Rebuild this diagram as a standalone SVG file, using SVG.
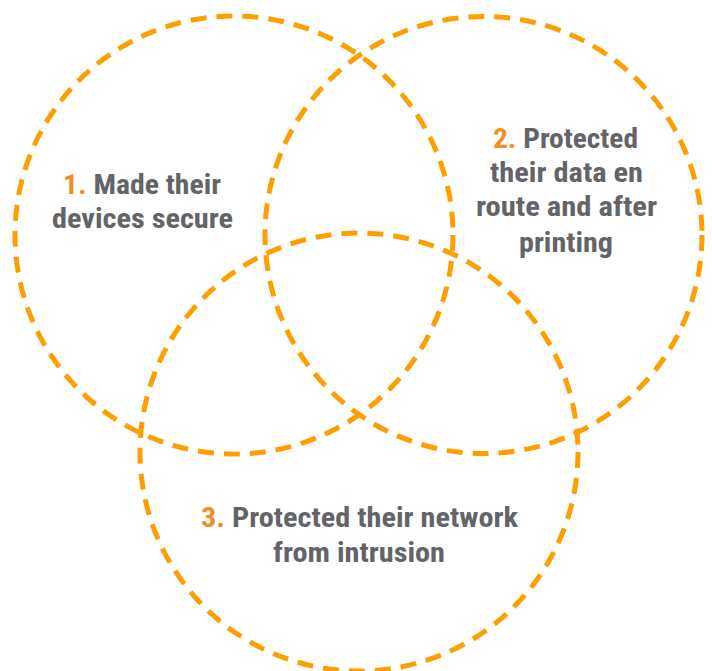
<svg xmlns="http://www.w3.org/2000/svg" width="712" height="671" viewBox="0 0 712 671">
<style>
.ring{fill:none;stroke:#FF9E00;stroke-width:5;stroke-dasharray:16 10}
.lbl{font-family:"Roboto Condensed","Liberation Sans Narrow",Roboto,"Liberation Sans",sans-serif;font-weight:bold;font-size:27px;fill:#636467;text-anchor:middle}
.num{fill:#F58D25}
</style>
<rect width="712" height="671" fill="#ffffff"/>
<g id="circle1">
<circle class="ring" cx="234" cy="235" r="219"/>
<text class="lbl" x="142" y="194" textLength="158" lengthAdjust="spacingAndGlyphs"><tspan class="num">1.</tspan> Made their</text>
<text class="lbl" x="142.5" y="228" textLength="181" lengthAdjust="spacingAndGlyphs">devices secure</text>
</g>
<g id="circle2">
<circle class="ring" cx="483.5" cy="235" r="218.5"/>
<text class="lbl" x="565.5" y="148" textLength="145" lengthAdjust="spacingAndGlyphs"><tspan class="num">2.</tspan> Protected</text>
<text class="lbl" x="566.5" y="182" textLength="153" lengthAdjust="spacingAndGlyphs">their data en</text>
<text class="lbl" x="566.5" y="216" textLength="181" lengthAdjust="spacingAndGlyphs">route and after</text>
<text class="lbl" x="566" y="252" textLength="94" lengthAdjust="spacingAndGlyphs">printing</text>
</g>
<g id="circle3">
<circle class="ring" cx="359" cy="452" r="219"/>
<text class="lbl" x="359.5" y="527" textLength="317" lengthAdjust="spacingAndGlyphs"><tspan class="num">3.</tspan> Protected their network</text>
<text class="lbl" x="359" y="562" textLength="172" lengthAdjust="spacingAndGlyphs">from intrusion</text>
</g>
<g id="connectors"></g>
</svg>
